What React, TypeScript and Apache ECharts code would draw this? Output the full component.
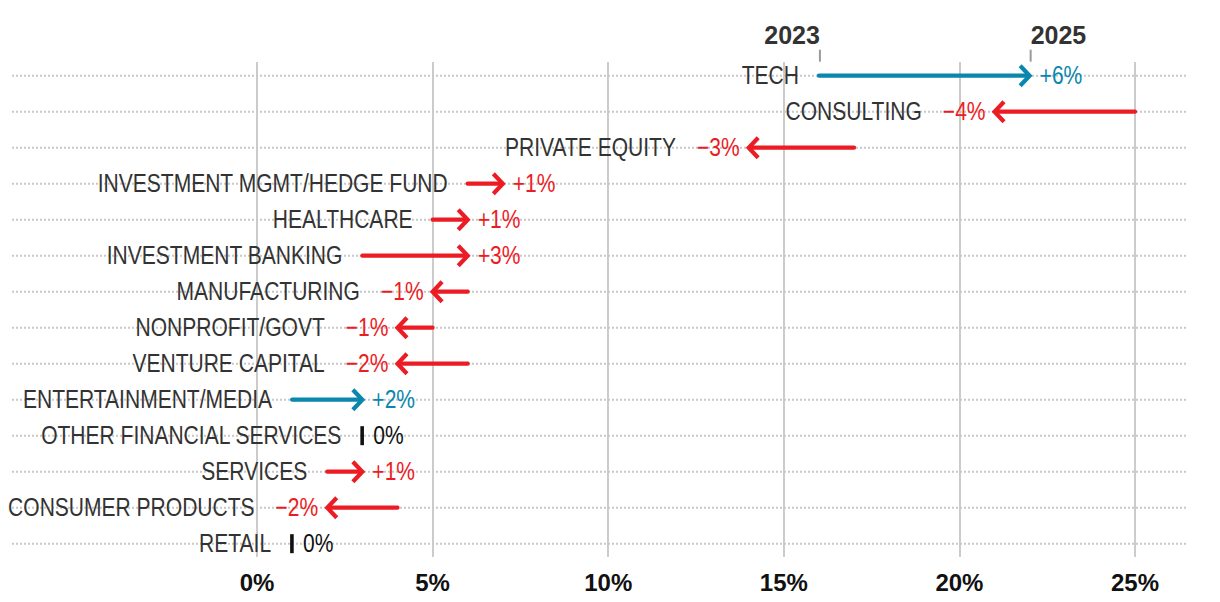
import React, { useEffect, useRef } from "react";
import * as echarts from "echarts";

const categories = [
  "TECH",
  "CONSULTING",
  "PRIVATE EQUITY",
  "INVESTMENT MGMT/HEDGE FUND",
  "HEALTHCARE",
  "INVESTMENT BANKING",
  "MANUFACTURING",
  "NONPROFIT/GOVT",
  "VENTURE CAPITAL",
  "ENTERTAINMENT/MEDIA",
  "OTHER FINANCIAL SERVICES",
  "SERVICES",
  "CONSUMER PRODUCTS",
  "RETAIL",
];
const values2023 = [16, 25, 17, 6, 5, 3, 6, 5, 6, 1, 3, 2, 4, 1];
const values2025 = [22, 21, 14, 7, 6, 6, 5, 4, 4, 3, 3, 3, 2, 1];
const highlighted = ["TECH", "ENTERTAINMENT/MEDIA"];
const yearLabels = ["2023", "2025"];

const FAMILY = '"Liberation Sans", Arial, sans-serif';
const BLUE = "#0a87ad";
const RED = "#ec1c24";
const TEXT = "#333333";
const FONT = `25.5px ${FAMILY}`;
const SX = 0.825;

function fmtChange(d: number) {
  if (d > 0) return `+${d}%`;
  if (d < 0) return `\u2212${-d}%`;
  return "0%";
}

let measureCtx: CanvasRenderingContext2D | null = null;
function textWidth(t: string, font: string) {
  if (!measureCtx) measureCtx = document.createElement("canvas").getContext("2d");
  if (!measureCtx) return t.length * 12;
  measureCtx.font = font;
  return measureCtx.measureText(t).width;
}

function txt(x: number, y: number, text: string, fill: string, align: string) {
  return {
    type: "text",
    x,
    y,
    scaleX: SX,
    style: { text, font: FONT, fill, align, verticalAlign: "middle" },
  };
}

export default function App() {
  const ref = useRef<HTMLDivElement>(null);
  useEffect(() => {
    if (!ref.current) return;
    const chart = echarts.init(ref.current, undefined, { renderer: "svg" });
    const data = categories.map((_, i) => [i, values2023[i], values2025[i]]);

    const renderItem = (params: any, api: any) => {
      const i = api.value(0);
      const a = api.value(1);
      const b = api.value(2);
      const pa = api.coord([a, i]);
      const pb = api.coord([b, i]);
      const y = pa[1];
      const color = highlighted.includes(categories[i]) ? BLUE : RED;
      const d = b - a;
      const children: any[] = [];
      children.push({
        type: "line",
        shape: { x1: 4, y1: y, x2: 1178, y2: y },
        style: { stroke: "#c8c8c8", lineWidth: 2, lineDash: [2, 2] },
        silent: true,
      });
      const label = fmtChange(d);
      let catRight: number;
      if (d === 0) {
        children.push({
          type: "rect",
          shape: { x: pa[0] - 2, y: y - 9.5, width: 3.6, height: 19 },
          style: { fill: "#111111" },
        });
        children.push(txt(pa[0] + 11, y, label, "#111111", "left"));
        catRight = pa[0] - 21;
      } else {
        const dir = d > 0 ? 1 : -1;
        children.push({
          type: "line",
          shape: { x1: pa[0], y1: y, x2: pb[0] - dir * 2, y2: y },
          style: { stroke: color, lineWidth: 4.2, lineCap: "round" },
        });
        children.push({
          type: "polyline",
          shape: {
            points: [
              [pb[0] - dir * 9.5, y - 10],
              [pb[0], y],
              [pb[0] - dir * 9.5, y + 10],
            ],
          },
          style: { stroke: color, lineWidth: 4.2, fill: null, lineJoin: "miter", lineCap: "butt" },
        });
        if (d > 0) {
          children.push(txt(pb[0] + 10, y, label, color, "left"));
          catRight = pa[0] - 20;
        } else {
          children.push(txt(pb[0] - 9, y, label, color, "right"));
          catRight = pb[0] - 9 - textWidth(label, FONT) * SX - 21;
        }
      }
      children.push(txt(catRight, y, categories[i], TEXT, "right"));
      if (i === 0) {
        children.push({
          type: "line",
          shape: { x1: pa[0] + 1, y1: y - 26, x2: pa[0] + 1, y2: y - 14 },
          style: { stroke: "#9a9a9a", lineWidth: 2 },
        });
        children.push({
          type: "line",
          shape: { x1: pb[0] + 1, y1: y - 26, x2: pb[0] + 1, y2: y - 14 },
          style: { stroke: "#9a9a9a", lineWidth: 2 },
        });
        children.push({
          type: "text",
          x: pa[0] + 1,
          y: y - 41,
          style: {
            text: yearLabels[0],
            font: `bold 25px ${FAMILY}`,
            fill: TEXT,
            align: "right",
            verticalAlign: "middle",
          },
        });
        children.push({
          type: "text",
          x: pb[0] + 1,
          y: y - 41,
          style: {
            text: yearLabels[1],
            font: `bold 25px ${FAMILY}`,
            fill: TEXT,
            align: "left",
            verticalAlign: "middle",
          },
        });
      }
      return { type: "group", children };
    };

    chart.setOption({
      animation: false,
      grid: {
        left: 249,
        right: 77,
        top: 54,
        bottom: 45,
        containLabel: false,
        outerBoundsMode: "none",
      },
      xAxis: {
        type: "value",
        min: 0,
        max: 25,
        interval: 5,
        axisLine: { show: false },
        axisTick: { show: false },
        axisLabel: {
          formatter: "{value}%",
          fontFamily: FAMILY,
          fontWeight: "bold",
          fontSize: 24,
          color: "#111111",
          margin: 13,
          verticalAlign: "top",
        },
        splitLine: { show: true, lineStyle: { color: "#cccccc", width: 2 } },
      },
      yAxis: {
        type: "value",
        inverse: true,
        min: -0.38,
        max: 13.37,
        show: false,
        splitLine: { show: false },
      },
      series: [
        {
          type: "custom",
          renderItem,
          data,
          clip: false,
          silent: true,
        },
      ],
    });
    return () => chart.dispose();
  }, []);
  return <div ref={ref} style={{ width: 1204, height: 594 }} />;
}
